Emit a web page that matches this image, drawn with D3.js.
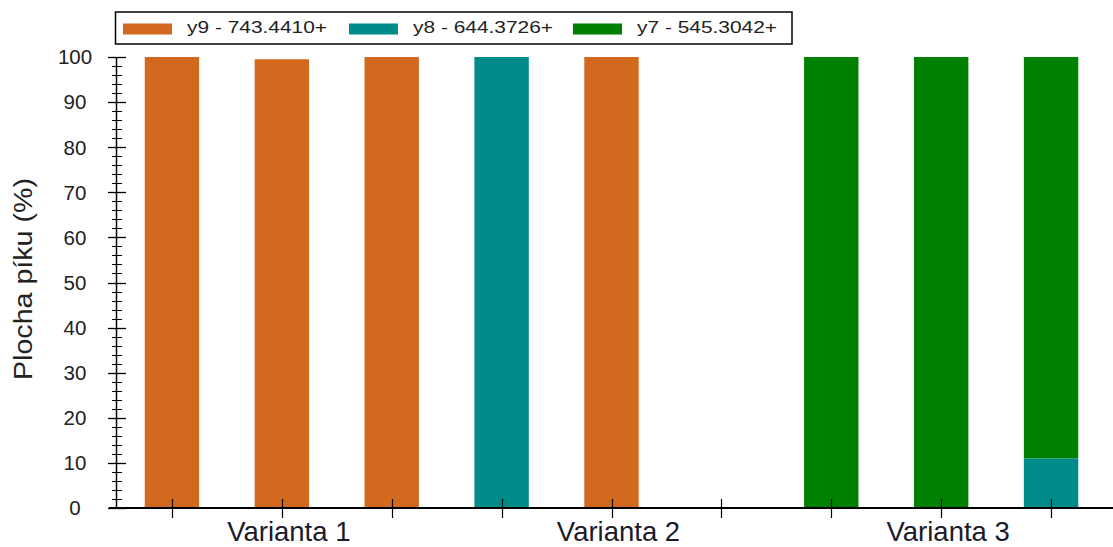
<!DOCTYPE html>
<html><head><meta charset="utf-8">
<script src="https://cdn.jsdelivr.net/npm/d3@7"></script>
<style>body{margin:0;background:#fff;}svg{display:block;font-family:"Liberation Sans",Arial,sans-serif;}</style>
</head><body>
<svg id="c" width="1113" height="547"></svg>
<script>
const samples = ["1","2","3","4","5","6","7","8","9"];
const groupLabels = ["Varianta 1","Varianta 2","Varianta 3"];
const groupMid = ["2","5","8"];
const seriesNames = ["y9 - 743.4410+","y8 - 644.3726+","y7 - 545.3042+"];
const y9 = [100, 99.5, 100, 0, 100, 0, 0, 0, 0];
const y8 = [0, 0, 0, 100, 0, 0, 0, 0, 11];
const y7 = [0, 0, 0, 0, 0, 0, 100, 100, 89];
const yTicks = [0,10,20,30,40,50,60,70,80,90,100];
const colors = ["#D2691E","#008B8B","#008000"];

const svg = d3.select("#c");
const x = d3.scaleBand().domain(samples).range([117,1106]).paddingInner(0.505).paddingOuter(0.2525);
const y = d3.scaleLinear().domain([0,100]).range([508,57]);

const table = samples.map((s,i)=>({s, y9:y9[i], y8:y8[i], y7:y7[i]}));
const stack = d3.stack().keys(["y9","y8","y7"])(table);

svg.append("g").selectAll("g").data(stack).join("g")
  .attr("fill",(d,i)=>colors[i])
  .selectAll("rect").data(d=>d).join("rect")
  .attr("x",d=>x(d.data.s)).attr("width",x.bandwidth())
  .attr("y",d=>y(d[1])).attr("height",d=>y(d[0])-y(d[1]));

// y axis
const ya = svg.append("g");
ya.append("line").attr("x1",116.5).attr("x2",116.5).attr("y1",y(100)).attr("y2",y(0)).attr("stroke","#000").attr("stroke-width",1.5);
const minor = d3.range(0,101,2).filter(v=>v%10!==0);
ya.selectAll(".mn").data(minor).join("line").attr("x1",112).attr("x2",122)
  .attr("y1",d=>Math.round(y(d))+0.5).attr("y2",d=>Math.round(y(d))+0.5).attr("stroke","#000");
ya.selectAll(".mj").data(yTicks).join("line").attr("x1",108).attr("x2",126)
  .attr("y1",d=>Math.round(y(d))+0.5).attr("y2",d=>Math.round(y(d))+0.5).attr("stroke","#000").attr("stroke-width",1.3);
ya.selectAll("text").data(yTicks).join("text").attr("x",75).attr("y",d=>y(d)).attr("dy","0.36em")
  .attr("text-anchor","middle").attr("font-size",20.5).attr("fill","#222").text(d=>d);
svg.append("text").attr("transform","translate(32,279) rotate(-90)").attr("text-anchor","middle")
  .attr("font-size",26).attr("fill","#222").attr("textLength",202).attr("lengthAdjust","spacingAndGlyphs")
  .text("Plocha píku (%)");

// x axis
svg.append("line").attr("x1",109).attr("x2",1113).attr("y1",508).attr("y2",508).attr("stroke","#000").attr("stroke-width",2);
svg.append("g").selectAll("line").data(samples).join("line")
  .attr("x1",d=>Math.round(x(d)+x.bandwidth()/2)+0.5).attr("x2",d=>Math.round(x(d)+x.bandwidth()/2)+0.5)
  .attr("y1",499).attr("y2",518).attr("stroke","#000").attr("stroke-width",1.2);
svg.append("g").selectAll("text").data(groupLabels).join("text")
  .attr("x",(d,i)=>x(groupMid[i])+x.bandwidth()/2+7).attr("y",541)
  .attr("text-anchor","middle").attr("font-size",27.5).attr("fill","#1a1a2a").text(d=>d);

// legend
const lg = svg.append("g");
lg.append("rect").attr("x",115.5).attr("y",12).attr("width",676.5).attr("height",32).attr("fill","#fff").attr("stroke","#000").attr("stroke-width",1.5);
const lx = [123,349,573];
seriesNames.forEach((n,i)=>{
  lg.append("rect").attr("x",lx[i]).attr("y",23.5).attr("width",49).attr("height",11).attr("fill",colors[i]);
  lg.append("text").attr("x",lx[i]+64).attr("y",33.3).attr("font-size",16.5).attr("fill","#222")
    .attr("textLength",140).attr("lengthAdjust","spacingAndGlyphs").text(n);
});
</script>
</body></html>
